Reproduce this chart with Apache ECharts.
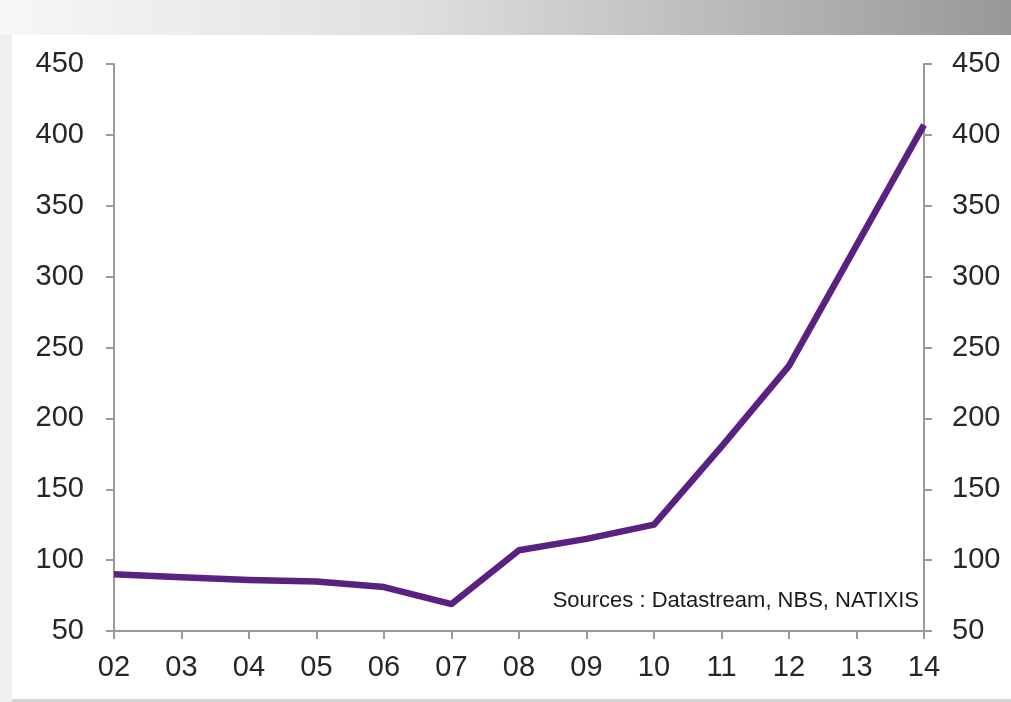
<!DOCTYPE html>
<html>
<head>
<meta charset="utf-8">
<script src="https://cdn.jsdelivr.net/npm/echarts@6/dist/echarts.min.js"></script>
<style>
html,body{margin:0;padding:0;background:#fff;}
#c{width:1011px;height:702px;}
</style>
</head>
<body>
<div id="c"></div>
<script>
var categories = ['02','03','04','05','06','07','08','09','10','11','12','13','14'];
var values = [90, 88, 86, 85, 81, 69, 107, 115, 125, 180, 237, 322, 407];
var yTicks = [50, 100, 150, 200, 250, 300, 350, 400, 450];
var sourceText = 'Sources : Datastream, NBS, NATIXIS';

var chart = echarts.init(document.getElementById('c'), null, {renderer: 'canvas'});
var labelFont = {color: '#262626', fontSize: 29, fontFamily: 'Liberation Sans, Arial, sans-serif'};
var axisLineStyle = {color: '#9a9a9a', width: 2};

function yAxisDef(pos, margin) {
  return {
    type: 'value', position: pos,
    min: yTicks[0], max: yTicks[yTicks.length - 1], interval: 50,
    axisLine: {show: true, lineStyle: axisLineStyle},
    axisTick: {show: true, inside: false, length: 8, lineStyle: axisLineStyle},
    axisLabel: Object.assign({margin: margin}, labelFont),
    splitLine: {show: false}
  };
}

chart.setOption({
  animation: false,
  backgroundColor: '#ffffff',
  graphic: [
    {type: 'rect', z: -10, shape: {x: 0, y: 0, width: 1011, height: 702}, style: {fill: '#efefef'}},
    {type: 'rect', z: -9, shape: {x: 0, y: 0, width: 1011, height: 35},
      style: {fill: new echarts.graphic.LinearGradient(0, 0, 1, 0, [
        {offset: 0, color: '#f7f7f7'}, {offset: 0.4, color: '#e0e0e0'}, {offset: 1, color: '#989898'}])}},
    {type: 'rect', z: -8, shape: {x: 12, y: 35, width: 999, height: 664}, style: {fill: '#ffffff'}},
    {type: 'rect', z: -8, shape: {x: 12, y: 699, width: 999, height: 3}, style: {fill: '#d4d4d4'}},
    {type: 'text', z: 10, x: 919, y: 601,
      style: {text: sourceText, align: 'right', verticalAlign: 'middle',
        fill: '#1a1a1a', fontSize: 22, fontFamily: 'Liberation Sans, Arial, sans-serif'}}
  ],
  grid: {left: 114, right: 87, top: 64, bottom: 71, containLabel: false},
  xAxis: {
    type: 'category', data: categories, boundaryGap: false,
    axisLine: {show: true, lineStyle: axisLineStyle},
    axisTick: {show: true, inside: false, length: 8, alignWithLabel: true, lineStyle: axisLineStyle},
    axisLabel: Object.assign({margin: 22, interval: 0}, labelFont),
    splitLine: {show: false}
  },
  yAxis: [yAxisDef('left', 30), yAxisDef('right', 28)],
  series: [{
    type: 'line', data: values, yAxisIndex: 0,
    symbol: 'none', smooth: false,
    lineStyle: {color: '#5b2180', width: 6.5, join: 'round'}
  }]
});
</script>
</body>
</html>
